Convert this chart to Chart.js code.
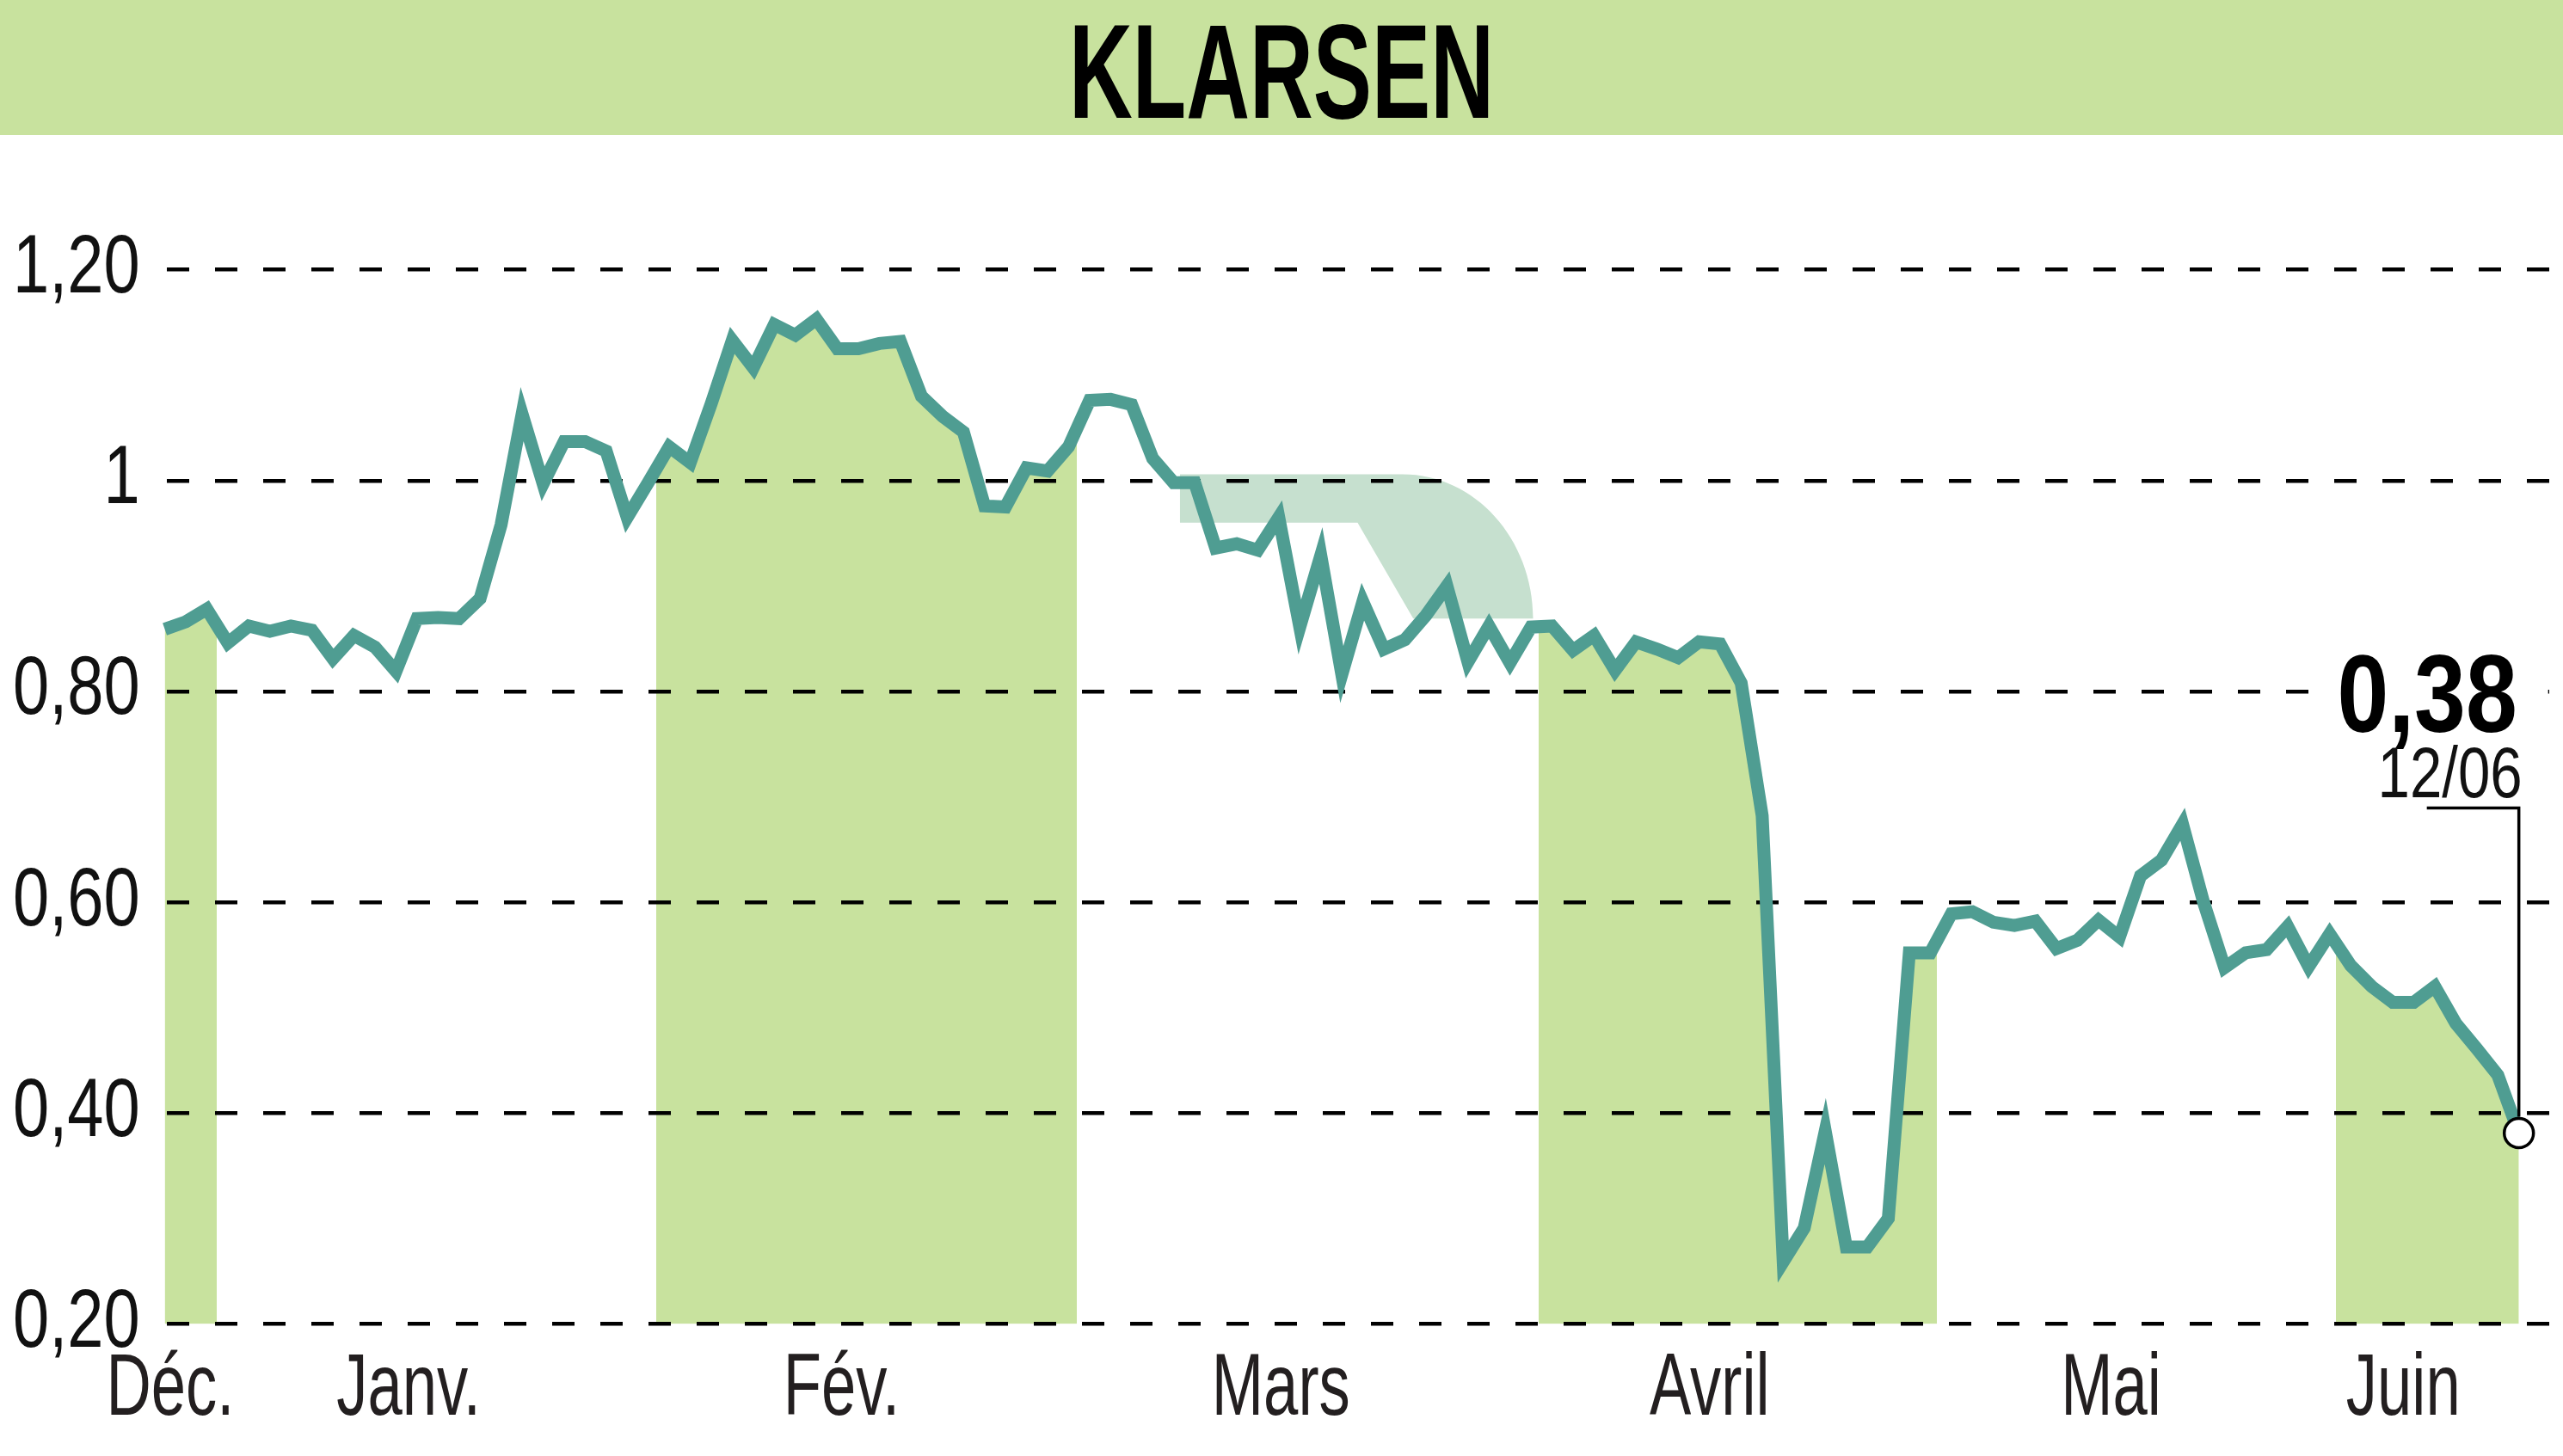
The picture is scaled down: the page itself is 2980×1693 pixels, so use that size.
<!DOCTYPE html>
<html>
<head>
<meta charset="utf-8">
<script src="https://cdn.jsdelivr.net/npm/chart.js@4.4.1/dist/chart.umd.min.js"></script>
<style>
html,body{margin:0;padding:0;background:#fff;overflow:hidden}
canvas{display:block}
</style>
</head>
<body>
<canvas id="c" width="2980" height="1693"></canvas>
<script>
// ---------------- data ----------------
const chartTitle = 'KLARSEN';
const prices = [
  0.859, 0.866, 0.878, 0.846, 0.862, 0.857, 0.862, 0.858, 0.831, 0.853,
  0.842, 0.819, 0.869, 0.870, 0.869, 0.888, 0.958, 1.063, 0.997, 1.037,
  1.037, 1.028, 0.965, 0.998, 1.032, 1.017, 1.073, 1.133, 1.107, 1.148,
  1.138, 1.153, 1.125, 1.125, 1.130, 1.132, 1.080, 1.061, 1.046, 0.976,
  0.975, 1.012, 1.009, 1.032, 1.076, 1.077, 1.072, 1.021, 0.998, 0.998,
  0.936, 0.940, 0.934, 0.965, 0.861, 0.929, 0.816, 0.885, 0.840, 0.849,
  0.872, 0.900, 0.828, 0.862, 0.827, 0.861, 0.862, 0.839, 0.853, 0.820,
  0.847, 0.840, 0.832, 0.847, 0.845, 0.808, 0.682, 0.259, 0.291, 0.383,
  0.273, 0.273, 0.300, 0.552, 0.552, 0.589, 0.591, 0.581, 0.578, 0.582,
  0.556, 0.564, 0.583, 0.567, 0.625, 0.640, 0.674, 0.600, 0.538, 0.552,
  0.555, 0.577, 0.539, 0.570, 0.540, 0.520, 0.505, 0.505, 0.520, 0.485,
  0.461, 0.436, 0.381
];
const monthNames = ['Déc.', 'Janv.', 'Fév.', 'Mars', 'Avril', 'Mai', 'Juin'];
const monthLabelPos = [0.26, 11.6, 32.2, 53.1, 73.5, 92.6, 106.5];      // in trading-day index
const shadedMonths = [[-0.2, 2.46], [23.4, 43.4], [65.35, 84.3], [103.3, 112.2]];
const yTickValues = [0.2, 0.4, 0.6, 0.8, 1.0, 1.2];
const yTickLabels = ['0,20', '0,40', '0,60', '0,80', '1', '1,20'];
const lastDateLabel = '12/06';
// decorative ribbon (in data units: day index / price)
const ribbon = {left: 48.3, arcStart: 58.9, right: 65.1, diagEnd: 59.4, innerCorner: 56.75,
                top: 1.006, inner: 0.960, bottom: 0.869};

// ---------------- style ----------------
const FAMILY = "'Liberation Sans', Arial, sans-serif";
const GREEN = 'rgb(200,226,158)';
const CLEAR = 'rgba(200,226,158,0)';
const LINE = 'rgb(79,157,146)';
const RIBBON = 'rgb(198,224,207)';

// condensed lettering (font size -> horizontal factor)
const condense = {96: 0.79, 102: 0.71, 156: 0.655, 128: 0.84, 84: 0.80};
const _fillText = CanvasRenderingContext2D.prototype.fillText;
CanvasRenderingContext2D.prototype.fillText = function (text, x, y, maxWidth) {
  const m = /(\d+(?:\.\d+)?)px/.exec(this.font);
  const f = m ? condense[Math.round(parseFloat(m[1]))] : undefined;
  if (!f) return maxWidth === undefined ? _fillText.call(this, text, x, y) : _fillText.call(this, text, x, y, maxWidth);
  this.save();
  this.translate(x, y);
  this.scale(f, 1);
  if (maxWidth === undefined) _fillText.call(this, text, 0, 0); else _fillText.call(this, text, 0, 0, maxWidth / f);
  this.restore();
};

function bandFill(ctx) {
  const chart = ctx.chart;
  const area = chart.chartArea;
  const xs = chart.scales && chart.scales.x;
  if (!area || !xs) return GREEN;
  const w = area.right - area.left;
  const g = chart.ctx.createLinearGradient(area.left, 0, area.right, 0);
  const T = v => Math.min(1, Math.max(0, (xs.getPixelForValue(v) - area.left) / w));
  shadedMonths.forEach(([a, b]) => {
    g.addColorStop(T(a), CLEAR); g.addColorStop(T(a), GREEN);
    g.addColorStop(T(b), GREEN); g.addColorStop(T(b), CLEAR);
  });
  return g;
}

const decor = {
  id: 'decor',
  beforeDraw(chart) {
    const {ctx} = chart;
    const xs = chart.scales.x, ys = chart.scales.y;
    ctx.save();
    // header band + title
    ctx.fillStyle = GREEN;
    ctx.fillRect(0, 0, chart.width, 157);
    ctx.fillStyle = '#000';
    ctx.font = 'bold 156px ' + FAMILY;
    ctx.textAlign = 'center';
    ctx.textBaseline = 'alphabetic';
    ctx.fillText(chartTitle, chart.width / 2, 137);
    // ribbon
    const X = v => xs.getPixelForValue(v), Y = v => ys.getPixelForValue(v);
    const x0 = X(ribbon.arcStart), xr = X(ribbon.right), yt = Y(ribbon.top), yb = Y(ribbon.bottom);
    const k = 0.5523;
    ctx.fillStyle = RIBBON;
    ctx.beginPath();
    ctx.moveTo(X(ribbon.left), yt);
    ctx.lineTo(x0, yt);
    ctx.bezierCurveTo(x0 + k * (xr - x0), yt, xr, yb - k * (yb - yt), xr, yb);
    ctx.lineTo(X(ribbon.diagEnd), yb);
    ctx.lineTo(X(ribbon.innerCorner), Y(ribbon.inner));
    ctx.lineTo(X(ribbon.left), Y(ribbon.inner));
    ctx.closePath();
    ctx.fill();
    ctx.restore();
  },
  afterDraw(chart) {
    const {ctx} = chart;
    const meta = chart.getDatasetMeta(0);
    const pt = meta.data[meta.data.length - 1];
    const px = pt.x, py = pt.y;
    ctx.save();
    // white plate behind the value
    ctx.fillStyle = '#fff';
    ctx.fillRect(px - 228, py - 568, 262, 110);
    // leader
    ctx.strokeStyle = '#000';
    ctx.lineWidth = 3.5;
    ctx.beginPath();
    ctx.moveTo(px, py - 19);
    ctx.lineTo(px, py - 378);
    ctx.lineTo(px - 107, py - 378);
    ctx.stroke();
    // texts
    ctx.fillStyle = '#000';
    ctx.textAlign = 'right';
    ctx.textBaseline = 'alphabetic';
    ctx.font = 'bold 128px ' + FAMILY;
    ctx.fillText(prices[prices.length - 1].toFixed(2).replace('.', ','), px - 2, py - 467);
    ctx.fillStyle = '#111';
    ctx.font = '84px ' + FAMILY;
    ctx.fillText(lastDateLabel, px + 4, py - 391);
    ctx.restore();
  }
};

new Chart(document.getElementById('c'), {
  type: 'line',
  data: {
    datasets: [{
      data: prices.map((v, i) => ({x: i, y: v})),
      borderColor: LINE,
      borderWidth: 15,
      tension: 0,
      borderJoinStyle: 'miter',
      fill: 'start',
      backgroundColor: bandFill,
      pointRadius: c => c.dataIndex === prices.length - 1 ? 17 : 0,
      pointHoverRadius: 0,
      pointBackgroundColor: '#fff',
      pointBorderColor: '#000',
      pointBorderWidth: 3.5,
      clip: 40
    }]
  },
  options: {
    responsive: false,
    animation: false,
    devicePixelRatio: 1,
    events: [],
    layout: {autoPadding: false, padding: {top: 313.6, right: 0, bottom: 0, left: 0}},
    plugins: {
      legend: {display: false},
      tooltip: {enabled: false},
      title: {display: false},
      filler: {drawTime: 'beforeDraw'}
    },
    scales: {
      x: {
        type: 'linear',
        min: -0.2,
        max: 114.1,
        grid: {display: false},
        border: {display: false},
        ticks: {
          autoSkip: false, maxRotation: 0, minRotation: 0, padding: 8,
          color: '#231f20',
          font: {family: FAMILY, size: 102},
          callback: (v, i) => monthNames[i]
        },
        afterBuildTicks: s => { s.ticks = monthLabelPos.map(v => ({value: v})); },
        afterFit: s => { s.height = 153.6; s.paddingLeft = 0; s.paddingRight = 0; }
      },
      y: {
        min: 0.2,
        max: 1.2,
        grid: {color: '#000', lineWidth: 4.5, drawTicks: false},
        border: {display: false, dash: [26, 30], dashOffset: -7},
        ticks: {
          padding: 24,
          color: '#111',
          font: {family: FAMILY, size: 96},
          callback: (v, i) => yTickLabels[i]
        },
        afterBuildTicks: s => { s.ticks = yTickValues.map(v => ({value: v})); },
        afterFit: s => { s.width = 186.7; s.paddingTop = 0; s.paddingBottom = 0; }
      }
    }
  },
  plugins: [decor]
});
</script>
</body>
</html>
